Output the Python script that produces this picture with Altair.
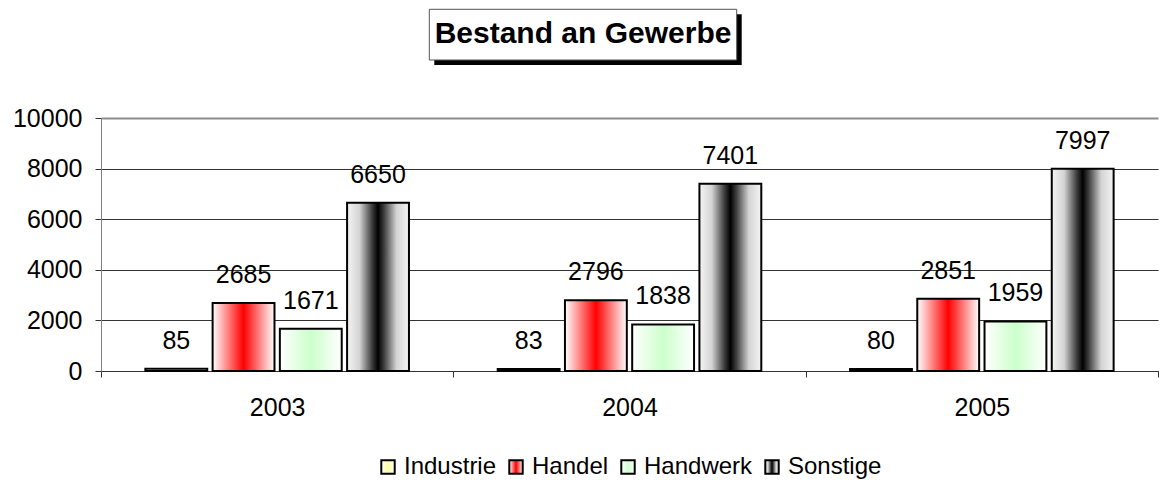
import altair as alt
import pandas as pd

TITLE = "Bestand an Gewerbe"
years = ["2003", "2004", "2005"]
series = ["Industrie", "Handel", "Handwerk", "Sonstige"]
industrie = [85, 83, 80]
handel = [2685, 2796, 2851]
handwerk = [1671, 1838, 1959]
sonstige = [6650, 7401, 7997]
y_ticks = [0, 2000, 4000, 6000, 8000, 10000]

rows = []
for s, vals in zip(series, [industrie, handel, handwerk, sonstige]):
    for yr, v in zip(years, vals):
        rows.append({"year": yr, "series": s, "value": v})
df = pd.DataFrame(rows)

FONT = "Liberation Sans"
FS = 25


def grad(stops):
    parts = ",".join("{offset:%s,color:'%s'}" % (o, c) for o, c in stops)
    return alt.ExprRef(expr="({gradient:'linear',x1:0,y1:0,x2:1,y2:0,stops:[%s]})" % parts)


fills = [
    grad([(0, "#ffffff"), (0.5, "#ffff99"), (1, "#ffffff")]),
    grad([(0, "#ffffff"), (0.5, "#ff0000"), (1, "#ffffff")]),
    grad([(0, "#ffffff"), (0.5, "#ccffcc"), (1, "#ffffff")]),
    grad([(0, "#f4f4f4"), (0.2, "#d4d4d4"), (0.4, "#404040"), (0.5, "#000000"),
          (0.6, "#404040"), (0.8, "#d4d4d4"), (1, "#f4f4f4")]),
]

x_enc = alt.X(
    "year:N",
    sort=years,
    scale=alt.Scale(paddingInner=0, paddingOuter=0),
    axis=alt.Axis(
        title=None, labelAngle=0, tickBand="extent", tickSize=6, tickColor="#333333",
        domainColor="#333333", labelFontSize=FS, labelFont=FONT, labelColor="black",
        labelPadding=18, grid=False,
    ),
)
xo_enc = alt.XOffset(
    "series:N",
    sort=series,
    scale=alt.Scale(domain=series, paddingInner=0.08, paddingOuter=0.66),
)
y_enc = alt.Y(
    "value:Q",
    scale=alt.Scale(domain=[0, 10000], nice=False),
    axis=alt.Axis(
        title=None, values=y_ticks, format="d", tickSize=6, tickColor="#333333",
        domainColor="#808080", labelFontSize=FS, labelFont=FONT, labelColor="black",
        labelPadding=13, grid=True,
        gridColor={"condition": {"test": "datum.value === 10000", "value": "#8c8c8c"}, "value": "#333333"},
        gridWidth={"condition": {"test": "datum.value === 10000", "value": 2}, "value": 1},
    ),
)

base = alt.Chart(df).encode(x=x_enc, xOffset=xo_enc, y=y_enc)

bars = base.mark_bar(stroke="black", strokeWidth=2).encode(
    color=alt.Color(
        "series:N",
        sort=series,
        scale=alt.Scale(domain=series, range=fills),
        legend=alt.Legend(
            title=None, orient="none", legendX=275, legendY=337, direction="horizontal",
            columns=4, symbolType="square", symbolSize=180, symbolStrokeColor="black",
            symbolStrokeWidth=2, labelFontSize=24, labelFont=FONT, labelColor="black",
            labelOffset=4, columnPadding=7, padding=0, symbolOpacity=1,
        ),
    )
)

labels = base.mark_text(
    baseline="alphabetic", align="center", dy=-20, fontSize=FS, font=FONT, color="black"
).encode(text="value:Q")

tdf = pd.DataFrame({"t": [TITLE]})
shadow = alt.Chart(tdf).mark_rect(color="black").encode(
    x=alt.value(333.3), x2=alt.value(640.7), y=alt.value(-103.7), y2=alt.value(-53)
)
box = alt.Chart(tdf).mark_rect(color="white", stroke="#555555", strokeWidth=1).encode(
    x=alt.value(328.3), x2=alt.value(635.7), y=alt.value(-108.7), y2=alt.value(-58)
)
title_text = alt.Chart(tdf).mark_text(
    fontSize=30, fontWeight="bold", font=FONT, baseline="alphabetic", align="center", color="black"
).encode(x=alt.value(482), y=alt.value(-74.7), text="t:N")

chart = (
    alt.layer(bars, labels, shadow, box, title_text)
    .properties(
        width=1057,
        height=253,
        autosize=alt.AutoSizeParams(type="none"),
        padding={"left": 93, "top": 110, "right": 10, "bottom": 113},
    )
    .configure_view(stroke=None)
)

chart.save("out.html", embed_options={"renderer": "svg", "actions": False})
